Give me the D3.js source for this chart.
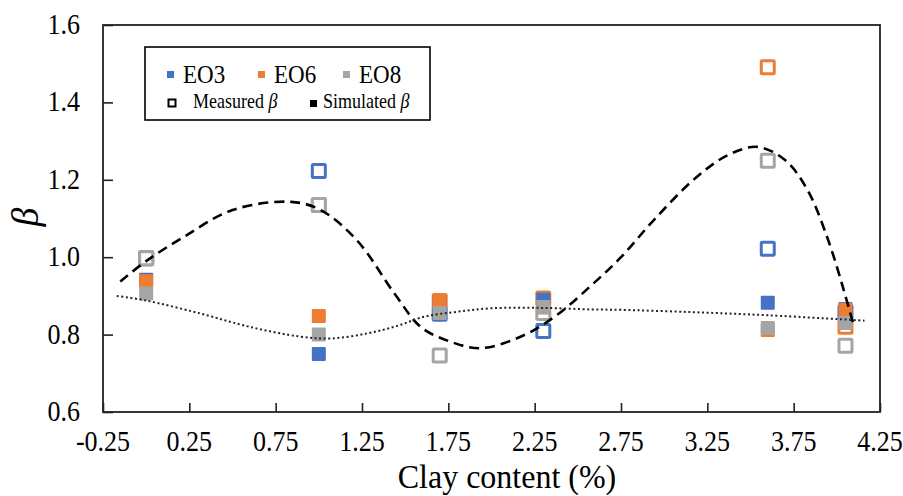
<!DOCTYPE html>
<html>
<head>
<meta charset="utf-8">
<script src="https://cdn.jsdelivr.net/npm/d3@7"></script>
<style>
body { margin: 0; background: #fff; }
text { font-family: "Liberation Serif", "Times New Roman", serif; fill: #000; }
</style>
</head>
<body>
<div class="canva"></div>
<script>
// clay content (%) of the samples
const clay = [0, 1, 1.7, 2.3, 3.6, 4.05];

// measured beta (open squares)
const eo3Measured = [0.997, 1.223, 0.854, 0.809, 1.022, 0.858];
const eo6Measured = [0.997, 1.135, 0.887, 0.893, 1.491, 0.82];
const eo8Measured = [0.997, 1.135, 0.746, 0.856, 1.249, 0.771];

// simulated beta (filled squares)
const eo3Simulated = [0.942, 0.75, 0.885, 0.89, 0.882, 0.866];
const eo6Simulated = [0.938, 0.848, 0.887, 0.87, 0.812, 0.864];
const eo8Simulated = [0.906, 0.80, 0.856, 0.871, 0.817, 0.83];

// smoothed trend lines
const dashX = [-0.15, 0, 0.22, 0.5, 0.84, 1.01, 1.22, 1.44, 1.59, 1.76, 1.94, 2.19, 2.38, 2.58, 2.75, 2.94, 3.18, 3.37, 3.54, 3.7, 3.83, 3.95, 4.04, 4.1];
const dashY = [0.937, 0.99, 1.053, 1.122, 1.143, 1.122, 1.044, 0.905, 0.82, 0.782, 0.765, 0.799, 0.851, 0.928, 1.0, 1.096, 1.204, 1.264, 1.285, 1.251, 1.174, 1.044, 0.915, 0.82];
const dotX = [-0.17, 0, 0.31, 0.6, 0.89, 1.07, 1.28, 1.45, 1.61, 1.8, 2.0, 2.29, 2.58, 2.75, 3.16, 3.6, 4.16];
const dotY = [0.9, 0.888, 0.855, 0.82, 0.795, 0.79, 0.803, 0.822, 0.846, 0.859, 0.868, 0.869, 0.865, 0.864, 0.858, 0.85, 0.836];

const xTicks = [-0.25, 0.25, 0.75, 1.25, 1.75, 2.25, 2.75, 3.25, 3.75, 4.25];
const yTicks = [0.6, 0.8, 1.0, 1.2, 1.4, 1.6];

const colors = { EO3: "#4472C4", EO6: "#ED7D31", EO8: "#A5A5A5" };

const width = 903, height = 496;
const plotL = 103, plotR = 880, plotT = 25, plotB = 412;
const stretch = 1.13; // the source picture is a bit taller than wide

const x = d3.scaleLinear().domain([-0.25, 4.25]).range([plotL, plotR]);
const y = d3.scaleLinear().domain([0.6, 1.6]).range([plotB, plotT]);

const svg = d3.select(".canva").append("svg")
.attr("width", width)
.attr("height", height);

svg.append("rect")
.attr("width", width)
.attr("height", height)
.attr("fill", "#fff");

// axes with inward ticks
const yAxis = svg.append("g")
.attr("transform", `translate(${plotL},0)`)
.call(d3.axisRight(y).tickValues(yTicks).tickSize(10).tickFormat(""));
const xAxis = svg.append("g")
.attr("transform", `translate(0,${plotB})`)
.call(d3.axisTop(x).tickValues(xTicks).tickSize(9).tickFormat(""));
[yAxis, xAxis].forEach(g => {
  g.select(".domain").remove();
  g.selectAll("line").attr("stroke", "#222").attr("stroke-width", 1.6);
});

// frame
svg.append("rect")
.attr("x", plotL)
.attr("y", plotT)
.attr("width", plotR - plotL)
.attr("height", plotB - plotT)
.attr("fill", "none")
.attr("stroke", "#222")
.attr("stroke-width", 1.8);

// tick labels
svg.selectAll(".ylab")
.data(yTicks)
.enter().append("text")
.attr("transform", d => `translate(80,${y(d) + 9}) scale(1,${stretch})`)
.attr("text-anchor", "end")
.attr("font-size", 26)
.text(d => d.toFixed(1));

svg.selectAll(".xlab")
.data(xTicks)
.enter().append("text")
.attr("transform", d => `translate(${x(d)},451) scale(1,${stretch})`)
.attr("text-anchor", "middle")
.attr("font-size", 26)
.text(d => d.toFixed(2));

svg.append("text")
.attr("transform", "translate(507,488) scale(1,1.05)")
.attr("text-anchor", "middle")
.attr("font-size", 32)
.text("Clay content (%)");

svg.append("text")
.attr("transform", "translate(38,217) rotate(-90)")
.attr("text-anchor", "middle")
.attr("font-size", 38)
.attr("font-style", "italic")
.text("β");

// markers: measured (open) first, simulated (filled) drawn over them
const series = [
  { vals: eo3Measured, c: colors.EO3, open: true },
  { vals: eo6Measured, c: colors.EO6, open: true },
  { vals: eo8Measured, c: colors.EO8, open: true },
  { vals: eo3Simulated, c: colors.EO3, open: false },
  { vals: eo6Simulated, c: colors.EO6, open: false },
  { vals: eo8Simulated, c: colors.EO8, open: false }
];

series.forEach(s => {
  const g = svg.append("g");
  g.selectAll("rect")
  .data(s.vals)
  .enter().append("rect")
  .attr("x", (d, i) => x(clay[i]) - (s.open ? 6.5 : 7))
  .attr("y", d => y(d) - (s.open ? 6.5 : 7))
  .attr("width", s.open ? 13 : 14)
  .attr("height", s.open ? 13 : 14)
  .attr("rx", 1)
  .attr("fill", s.open ? "#fff" : s.c)
  .attr("stroke", s.open ? s.c : "none")
  .attr("stroke-width", s.open ? 3 : 0);
});

// smooth lines
const line = d3.line()
.x(d => x(d[0]))
.y(d => y(d[1]))
.curve(d3.curveCatmullRom.alpha(0.5));

svg.append("path")
.attr("d", line(dashX.map((v, i) => [v, dashY[i]])))
.attr("fill", "none")
.attr("stroke", "#000")
.attr("stroke-width", 2.6)
.attr("stroke-dasharray", "10,6");

svg.append("path")
.attr("d", line(dotX.map((v, i) => [v, dotY[i]])))
.attr("fill", "none")
.attr("stroke", "#222")
.attr("stroke-width", 2)
.attr("stroke-dasharray", "2,2.6");

// legend
const legend = svg.append("g");
legend.append("rect")
.attr("x", 145)
.attr("y", 47)
.attr("width", 285)
.attr("height", 73)
.attr("fill", "#fff")
.attr("stroke", "#000")
.attr("stroke-width", 1.6);

const legendNames = ["EO3", "EO6", "EO8"];
const legendX = [167, 258, 343];
legendNames.forEach((n, i) => {
  legend.append("rect")
  .attr("x", legendX[i])
  .attr("y", 71)
  .attr("width", 7)
  .attr("height", 7)
  .attr("fill", colors[n]);
  legend.append("text")
  .attr("transform", `translate(${legendX[i] + 16},83) scale(1,${stretch})`)
  .attr("font-size", 23)
  .text(n);
});

legend.append("rect")
.attr("x", 168.5)
.attr("y", 99.5)
.attr("width", 7)
.attr("height", 7)
.attr("fill", "#fff")
.attr("stroke", "#000")
.attr("stroke-width", 2);
const m = legend.append("text").attr("transform", `translate(193,108) scale(1,${stretch})`).attr("font-size", 18);
m.append("tspan").text("Measured ");
m.append("tspan").attr("font-style", "italic").text("β");

legend.append("rect")
.attr("x", 310)
.attr("y", 100)
.attr("width", 7)
.attr("height", 7)
.attr("fill", "#000");
const s2 = legend.append("text").attr("transform", `translate(323,108) scale(1,${stretch})`).attr("font-size", 18);
s2.append("tspan").text("Simulated ");
s2.append("tspan").attr("font-style", "italic").text("β");
</script>
</body>
</html>
